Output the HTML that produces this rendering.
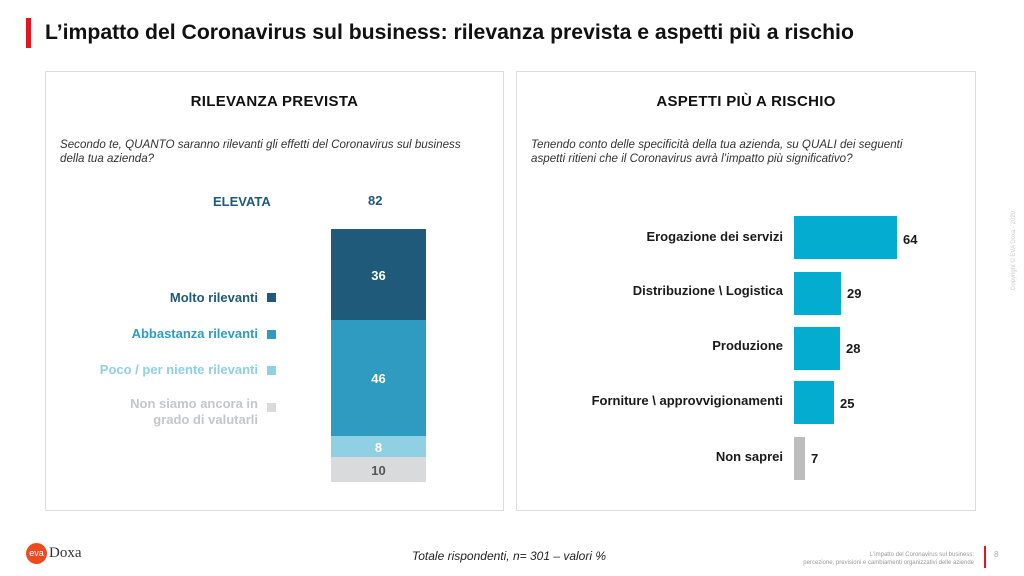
<!DOCTYPE html>
<html><head><meta charset="utf-8"><style>
body{margin:0;width:1024px;height:576px;background:#fff;position:relative;font-family:"Liberation Sans",sans-serif;overflow:hidden}
.a{position:absolute;white-space:nowrap}
.panel{position:absolute;border:1.5px solid #ddd;background:#fff;box-sizing:border-box}
.h{font-weight:bold;font-size:15px;color:#111;text-align:center;letter-spacing:0.3px}
.q{font-style:italic;font-size:11.6px;color:#333;line-height:14px;white-space:normal}
.lg{font-weight:bold;font-size:13px;text-align:right;right:0}
.bl{font-weight:bold;font-size:13px;color:#1a1a1a;text-align:right}
.v{font-weight:bold;font-size:13px;color:#1a1a1a}
.sq{position:absolute;width:9px;height:9px}
</style></head><body>
<div class="a" style="left:26px;top:18px;width:5px;height:30px;background:#e5151b"></div>
<div class="a" style="left:45px;top:21px;font-size:21.2px;font-weight:bold;color:#111">L’impatto del Coronavirus sul business: rilevanza prevista e aspetti più a rischio</div>

<div class="panel" style="left:45px;top:71px;width:459px;height:440px"></div>
<div class="panel" style="left:516px;top:71px;width:460px;height:440px"></div>

<div class="a h" style="left:45px;top:93px;width:459px">RILEVANZA PREVISTA</div>
<div class="a q" style="left:60px;top:138px;width:425px">Secondo te, QUANTO saranno rilevanti gli effetti del Coronavirus sul business della tua azienda?</div>

<div class="a h" style="left:516px;top:93px;width:460px">ASPETTI PIÙ A RISCHIO</div>
<div class="a q" style="left:531px;top:138px;width:400px">Tenendo conto delle specificità della tua azienda, su QUALI dei seguenti aspetti ritieni che il Coronavirus avrà l’impatto più significativo?</div>

<div class="a" style="left:213px;top:194px;font-weight:bold;font-size:13px;color:#1f5a7a">ELEVATA</div>
<div class="a" style="left:368px;top:193px;font-weight:bold;font-size:13px;color:#1f5a7a">82</div>

<div class="a" style="left:331px;top:229px;width:95px;height:91px;background:#1f5a7a"></div>
<div class="a" style="left:331px;top:320px;width:95px;height:116px;background:#2f9bc0"></div>
<div class="a" style="left:331px;top:436px;width:95px;height:21px;background:#8fd0e4"></div>
<div class="a" style="left:331px;top:457px;width:95px;height:25px;background:#d9dadc"></div>
<div class="a v" style="left:331px;top:268px;width:95px;text-align:center;color:#fff">36</div>
<div class="a v" style="left:331px;top:371px;width:95px;text-align:center;color:#fff">46</div>
<div class="a v" style="left:331px;top:440px;width:95px;text-align:center;color:#fff">8</div>
<div class="a v" style="left:331px;top:463px;width:95px;text-align:center;color:#555">10</div>

<div class="a lg" style="right:766px;top:290px;color:#1f5a7a">Molto rilevanti</div>
<div class="sq" style="left:267px;top:293px;background:#1f5a7a"></div>
<div class="a lg" style="right:766px;top:326px;color:#2f9bc0">Abbastanza rilevanti</div>
<div class="sq" style="left:267px;top:330px;background:#2f9bc0"></div>
<div class="a lg" style="right:766px;top:362px;color:#8fd0e4">Poco / per niente rilevanti</div>
<div class="sq" style="left:267px;top:366px;background:#8fd0e4"></div>
<div class="a lg" style="right:766px;top:396px;color:#c5c6c8;line-height:16px">Non siamo ancora in<br>grado di valutarli</div>
<div class="sq" style="left:267px;top:403px;background:#d9dadc"></div>

<div class="a" style="left:794px;top:216px;width:103px;height:43px;background:#04acd0"></div>
<div class="a" style="left:794px;top:272px;width:47px;height:43px;background:#04acd0"></div>
<div class="a" style="left:794px;top:327px;width:46px;height:43px;background:#04acd0"></div>
<div class="a" style="left:794px;top:381px;width:40px;height:43px;background:#04acd0"></div>
<div class="a" style="left:794px;top:437px;width:11px;height:43px;background:#bdbdbd"></div>

<div class="a bl" style="right:241px;top:229px">Erogazione dei servizi</div>
<div class="a bl" style="right:241px;top:283px">Distribuzione \ Logistica</div>
<div class="a bl" style="right:241px;top:338px">Produzione</div>
<div class="a bl" style="right:241px;top:393px">Forniture \ approvvigionamenti</div>
<div class="a bl" style="right:241px;top:449px">Non saprei</div>
<div class="a v" style="left:903px;top:232px">64</div>
<div class="a v" style="left:847px;top:286px">29</div>
<div class="a v" style="left:846px;top:341px">28</div>
<div class="a v" style="left:840px;top:396px">25</div>
<div class="a v" style="left:811px;top:451px">7</div>

<div class="a" style="left:1011px;top:290px;font-size:6px;color:#ccc;transform:rotate(-90deg);transform-origin:0 0">Copyright © EVA Doxa - 2020</div>

<div class="a" style="left:26px;top:543px;width:21px;height:21px;border-radius:50%;background:#ee4a1f;color:#fff;font-size:9px;line-height:21px;text-align:center">eva</div>
<div class="a" style="left:49px;top:545px;font-family:'Liberation Serif',serif;font-size:15px;color:#333">Doxa</div>
<div class="a" style="left:412px;top:549px;font-style:italic;font-size:12px;color:#222">Totale rispondenti, n= 301 – valori %</div>
<div class="a" style="right:50px;top:551px;font-size:6px;color:#999;text-align:right;line-height:8px">L'impatto del Coronavirus sul business:<br>percezione, previsioni e cambiamenti organizzativi delle aziende</div>
<div class="a" style="left:984px;top:546px;width:1.5px;height:22px;background:#e5151b"></div>
<div class="a" style="left:994px;top:550px;font-size:8px;color:#aaa">8</div>
</body></html>
